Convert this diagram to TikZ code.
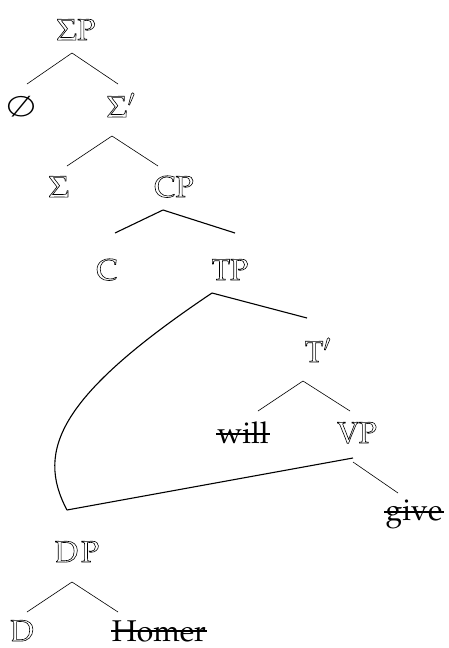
\documentclass[tikz,border=0pt]{standalone}
\usepackage[T1]{fontenc}
\usepackage{mathpazo}
\usetikzlibrary{calc}
\newcommand{\outl}[1]{\special{pdf:literal direct 1 Tr 0.6 w}#1\special{pdf:literal direct 0 Tr}}
\tikzset{
  lab/.style={inner sep=0pt, anchor=base, font=\fontsize{30}{36}\selectfont},
  thinedge/.style={line width=0.6pt},
  thickedge/.style={line width=1.1pt},
  strk/.style={line width=1.4pt}
}
\begin{document}
\begin{tikzpicture}[x=1pt,y=-1pt]
\useasboundingbox (0,0) rectangle (449,648);
% labels (anchor base)
\node[lab] (SP) at (76,40) {\outl{$\Sigma$P}};
\node[lab] (E) at (21,116) {\scalebox{1.2}[0.95]{$\emptyset$}};
\node[lab] (Sb) at (121,117) {\outl{$\Sigma'$}};
\node[lab] (S) at (59,197) {\outl{$\Sigma$}};
\node[lab] (CP) at (174,197) {\outl{CP}};
\node[lab] (C) at (107,280) {\outl{C}};
\node[lab] (TP) at (230,280) {\outl{TP}};
\node[lab] (Tb) at (318,362) {\outl{T$'$}};
\node[lab] (will) at (243,443) {will};
\node[lab] (VP) at (357,443) {\outl{VP}};
\node[lab] (give) at (414,520) {give};
\node[lab] (DP) at (77,562) {\outl{D\kern3pt P}};
\node[lab] (D) at (22,641) {\outl{D}};
\node[lab] (Homer) at (159,641) {Homer};
% strike-outs
\draw[strk] ($(will.base west)+(-1,-9)$) -- ($(will.base east)+(1,-9)$);
\draw[strk] ($(give.base west)+(-1,-8)$) -- ($(give.base east)+(1,-8)$);
\draw[strk] ($(Homer.base west)+(-1,-10)$) -- ($(Homer.base east)+(1,-10)$);
% edges
\draw[thinedge] ($(SP.base)+(-4,13)$) -- ($(E.base)+(6,-32)$);
\draw[thinedge] ($(SP.base)+(-4,13)$) -- ($(Sb.base)+(-3,-33)$);
\draw[thinedge] ($(Sb.base)+(-9,19)$) -- ($(S.base)+(8,-31)$);
\draw[thinedge] ($(Sb.base)+(-9,19)$) -- ($(CP.base)+(-16,-31)$);
\draw[thickedge] ($(CP.base)+(-11,13)$) -- ($(C.base)+(8,-47)$);
\draw[thickedge] ($(CP.base)+(-11,13)$) -- ($(TP.base)+(5,-47)$);
\draw[thickedge] ($(TP.base)+(-18,13)$) -- ($(Tb.base)+(-11,-44)$);
\draw[thinedge] ($(Tb.base)+(-15,19)$) -- ($(will.base)+(15,-32)$);
\draw[thinedge] ($(Tb.base)+(-15,19)$) -- ($(VP.base)+(-7,-32)$);
\draw[thinedge] ($(VP.base)+(-4,19)$) -- ($(give.base)+(-16,-27)$);
\draw[thinedge] ($(DP.base)+(-5,20)$) -- ($(D.base)+(5,-29)$);
\draw[thinedge] ($(DP.base)+(-5,20)$) -- ($(Homer.base)+(-41,-29)$);
% movement
\coordinate (foot) at ($(DP.base)+(-10,-52)$);
\draw[thickedge, line join=round] ($(TP.base)+(-18,13)$) .. controls (60,395) and (35,450) .. (foot) -- ($(VP.base)+(-4,15)$);
\end{tikzpicture}
\end{document}
